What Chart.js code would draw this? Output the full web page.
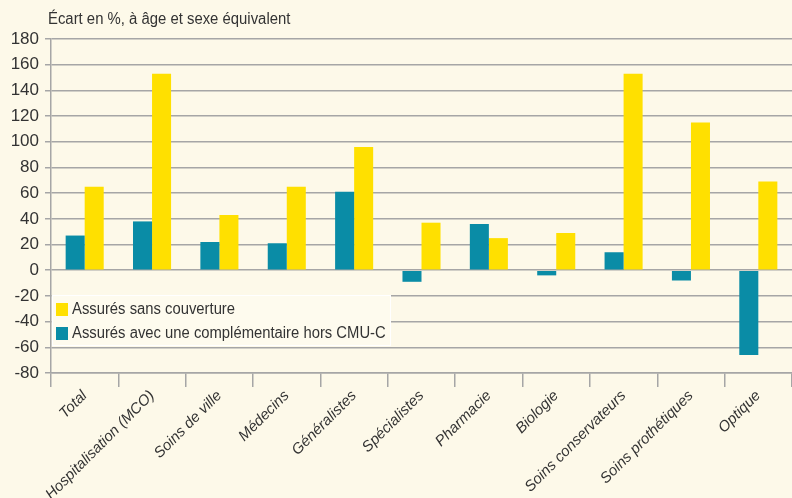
<!DOCTYPE html>
<html><head><meta charset="utf-8">
<script src="https://cdn.jsdelivr.net/npm/chart.js@4.4.1/dist/chart.umd.min.js"></script>
<style>html,body{margin:0;padding:0;background:#fdf9e9;}#wrap{width:792px;height:498px;position:relative;}</style>
</head><body><div id="wrap"><canvas id="c" width="792" height="498"></canvas></div>
<script>
const titleText = "Écart en %, à âge et sexe équivalent";
const categories = ["Total","Hospitalisation (MCO)","Soins de ville","Médecins","Généralistes","Spécialistes","Pharmacie","Biologie","Soins conservateurs","Soins prothétiques","Optique"];
const seriesNames = ["Assurés avec une complémentaire hors CMU-C","Assurés sans couverture"];
const avecComplementaire = [27, 38, 22, 21, 61, -9, 36, -4, 14, -8, -66];
const sansCouverture = [65, 153, 43, 65, 96, 37, 25, 29, 153, 115, 69];
const yTicks = [-80,-60,-40,-20,0,20,40,60,80,100,120,140,160,180];

const FONT = "'Liberation Sans',Arial,sans-serif";
const TEAL = '#0a8ca6', YELLOW = '#ffe000', BG = '#fdf9e9', GRID = '#a6a6a6', TXT = '#333333';

function condensedText(c, txt, x, y, sx){c.save();c.translate(x,y);c.scale(sx,1);c.fillText(txt,0,0);c.restore();}

const bgPlugin = {id:'bg', beforeDraw(chart){const c=chart.ctx;c.save();c.fillStyle=BG;c.fillRect(0,0,chart.width,chart.height);c.restore();}};
const titlePlugin = {id:'ttl', afterDraw(chart){const c=chart.ctx;c.save();c.font="16px "+FONT;c.fillStyle=TXT;c.textBaseline='middle';c.textAlign='left';condensedText(c,titleText,48,20,0.93);c.restore();}};
const legendPlugin = {id:'lg', afterDraw(chart){
  const c=chart.ctx;c.save();
  c.fillStyle='#fefbee';c.strokeStyle='#ffffff';c.lineWidth=1;
  c.fillRect(52,295,339,51);c.strokeRect(52.5,295.5,338,50);
  const ds=chart.data.datasets;const order=[1,0];
  c.font="16px "+FONT;c.textBaseline='middle';c.textAlign='left';
  order.forEach((k,i)=>{const y=303+i*24;c.fillStyle=ds[k].backgroundColor;c.fillRect(56,y,12,13);c.fillStyle=TXT;condensedText(c,ds[k].label,72,y+7,0.926);});
  c.restore();}};

new Chart(document.getElementById('c'),{
  type:'bar',
  data:{labels:categories,datasets:[
    {label:seriesNames[0],data:avecComplementaire,backgroundColor:TEAL,categoryPercentage:0.565,barPercentage:1},
    {label:seriesNames[1],data:sansCouverture,backgroundColor:YELLOW,categoryPercentage:0.565,barPercentage:1}
  ]},
  options:{responsive:false,animation:false,
    layout:{padding:{top:39,right:0,left:0,bottom:0}},
    plugins:{legend:{display:false},tooltip:{enabled:false},title:{display:false}},
    scales:{
      x:{offset:true,
        grid:{offset:true,drawOnChartArea:false,drawTicks:true,tickLength:14,color:GRID,lineWidth:1.5},
        border:{color:GRID,width:1.5},
        ticks:{color:TXT,font:{family:FONT,size:15,style:'italic'},minRotation:45,maxRotation:45,padding:0,autoSkip:false},
        afterFit(s){s.height=125;}},
      y:{min:-80,max:180,
        afterBuildTicks(s){s.ticks=yTicks.map(v=>({value:v}));},
        grid:{color:GRID,lineWidth:1.5,tickLength:6,drawTicks:true},
        border:{color:GRID,width:1.5},
        ticks:{color:TXT,font:{family:FONT,size:17},padding:6},
        afterFit(s){s.width=51;}}
    }
  },
  plugins:[bgPlugin,titlePlugin,legendPlugin]
});
</script></body></html>
